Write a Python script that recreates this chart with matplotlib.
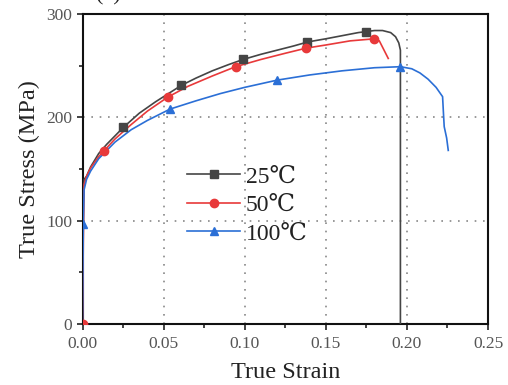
import matplotlib
matplotlib.use("Agg")
import matplotlib.pyplot as plt
from matplotlib.ticker import MultipleLocator, FormatStrFormatter

# ---- data ----
labels = ["25℃", "50℃", "100℃"]

strain_25 = [0.0, 0.0005, 0.001, 0.0025, 0.005, 0.01, 0.015, 0.02, 0.025, 0.035, 0.045,
             0.055, 0.061, 0.07, 0.08, 0.09, 0.099, 0.11, 0.12, 0.13, 0.139, 0.15, 0.16,
             0.17, 0.175, 0.18, 0.185, 0.19, 0.193, 0.195, 0.196, 0.196]
stress_25 = [0, 120, 140, 143, 152, 165, 174, 182, 190, 204, 215,
             225, 231, 238, 245, 251, 256, 261, 265, 269, 273, 276, 279,
             282, 283, 284, 284, 282, 278, 272, 265, 0]
mk_strain_25 = [0.025, 0.061, 0.0987, 0.1387, 0.175]
mk_stress_25 = [190.5, 231, 256, 273, 283]

strain_50 = [0.0, 0.0005, 0.001, 0.0025, 0.005, 0.01, 0.0132, 0.02, 0.03, 0.04, 0.0525,
             0.065, 0.08, 0.0944, 0.11, 0.125, 0.138, 0.15, 0.165, 0.18, 0.183, 0.1885]
stress_50 = [0, 80, 135, 143, 151, 162, 167.5, 179, 193, 206, 219.5,
             230, 240, 249, 256, 262, 267, 270, 274, 276, 274, 257]
mk_strain_50 = [0.0, 0.0132, 0.0525, 0.0944, 0.138, 0.18]
mk_stress_50 = [0, 167.5, 219.5, 249, 267, 276]

strain_100 = [0.0, 0.0005, 0.001, 0.0025, 0.005, 0.01, 0.02, 0.03, 0.04, 0.054, 0.07,
              0.085, 0.1, 0.12, 0.14, 0.16, 0.18, 0.196, 0.203, 0.208, 0.213, 0.218,
              0.222, 0.2225, 0.223, 0.2245, 0.2255]
stress_100 = [0, 97, 130, 140, 148, 160, 176, 188, 197, 208, 216,
              223, 229, 236, 241, 245, 248, 249, 247, 243, 237, 229,
              220, 205, 191, 180, 168]
mk_strain_100 = [0.0, 0.054, 0.12, 0.196]
mk_stress_100 = [97, 208, 236, 249]

colors = ["#454545", "#e8393a", "#2b6fd6"]
markers = ["s", "o", "^"]

serif = ["Liberation Serif", "DejaVu Serif"]

fig = plt.figure(figsize=(5.08, 3.85), dpi=100)
ax = fig.add_axes([82.5 / 508, 61 / 385, 405.5 / 508, 310 / 385])

series = [
    (strain_25, stress_25, mk_strain_25, mk_stress_25),
    (strain_50, stress_50, mk_strain_50, mk_stress_50),
    (strain_100, stress_100, mk_strain_100, mk_stress_100),
]
handles = []
for (sx, sy, mx, my), c, m, lab in zip(series, colors, markers, labels):
    ax.plot(sx, sy, color=c, lw=1.2, zorder=3)
    ax.plot(mx, my, ls="none", marker=m, color=c, ms=6, zorder=4)
    h, = ax.plot([], [], color=c, lw=1.2, marker=m, ms=6, label=lab)
    handles.append(h)

ax.set_xlim(0, 0.25)
ax.set_ylim(0, 300)
ax.xaxis.set_major_locator(MultipleLocator(0.05))
ax.xaxis.set_minor_locator(MultipleLocator(0.025))
ax.yaxis.set_major_locator(MultipleLocator(100))
ax.yaxis.set_minor_locator(MultipleLocator(50))
ax.xaxis.set_major_formatter(FormatStrFormatter("%.2f"))
ax.yaxis.set_major_formatter(FormatStrFormatter("%d"))

for v in [0.05, 0.10, 0.15, 0.20]:
    ax.axvline(v, color="#888888", lw=1.2, ls=(0, (1, 4)), zorder=1)
for v in [100, 200]:
    ax.axhline(v, color="#888888", lw=1.2, ls=(0, (1, 4)), zorder=1)

ax.tick_params(which="major", direction="out", length=4, width=1.2, colors="#222222",
               labelcolor="#555555", labelsize=12.5, top=False, right=False)
ax.tick_params(axis="x", which="major", pad=5)
ax.tick_params(which="minor", direction="out", length=3, width=1.2, colors="#222222",
               top=False, right=False)
for lab in ax.get_xticklabels() + ax.get_yticklabels():
    lab.set_family(serif)
for s in ax.spines.values():
    s.set_linewidth(1.5)
    s.set_color("#111111")

ax.set_xlabel("True Strain", family=serif, fontsize=17.5, color="#222222", labelpad=7)
ax.set_ylabel("True Stress (MPa)", family=serif, fontsize=17.5, color="#222222", labelpad=4)

leg = ax.legend(handles=handles, loc="upper left",
                bbox_to_anchor=(187 / 508, 1 - 166 / 385), bbox_transform=fig.transFigure,
                frameon=False, prop={"family": serif, "size": 17},
                handlelength=2.25, handletextpad=0.25, labelspacing=0.3,
                borderpad=0, borderaxespad=0)
for t in leg.get_texts():
    t.set_color("#222222")

fig.text(108 / 508, 1.0, "(a)", family=serif, fontsize=16, ha="center", va="baseline",
         color="#222222")

fig.savefig("out.png", dpi=100)
